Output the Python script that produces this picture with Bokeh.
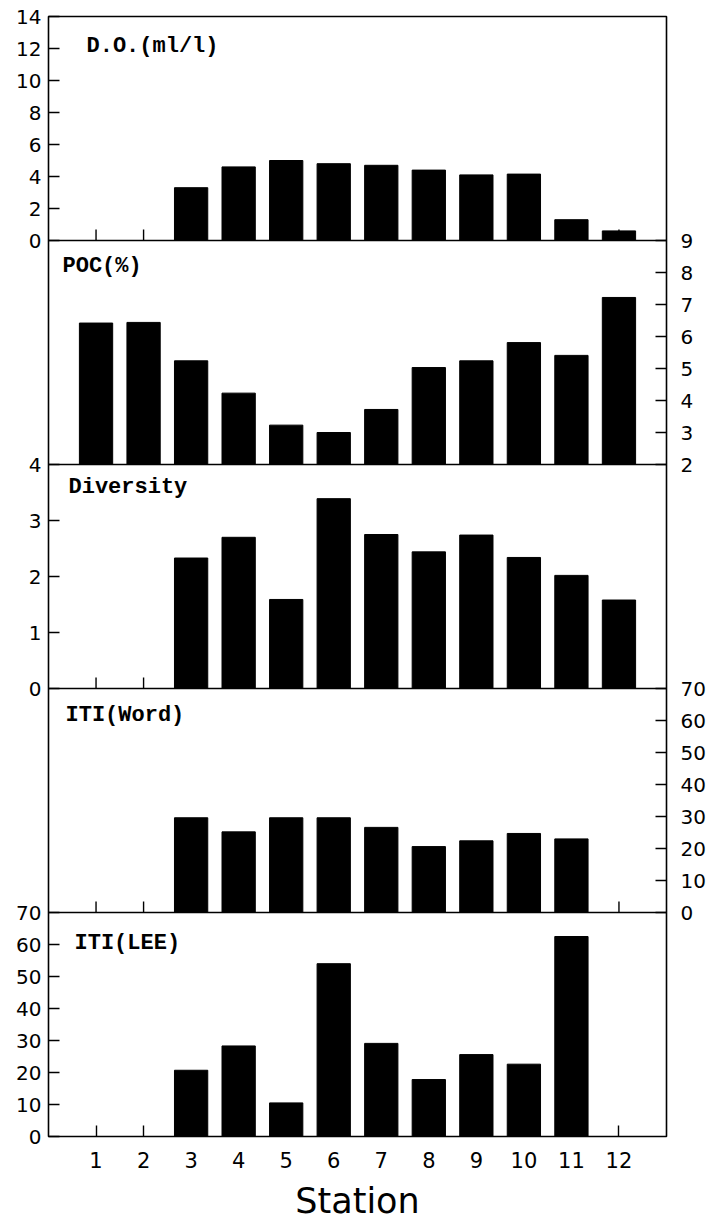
from bokeh.plotting import figure
from bokeh.models import Range1d, LinearAxis, FixedTicker, Span, Label, ColumnDataSource
from bokeh.embed import file_html
from bokeh.resources import INLINE

# ---------------- data ----------------
stations = [1, 2, 3, 4, 5, 6, 7, 8, 9, 10, 11, 12]

do_values = [None, None, 3.3, 4.6, 5.0, 4.8, 4.7, 4.4, 4.1, 4.15, 1.3, 0.6]
poc_values = [6.42, 6.44, 5.24, 4.23, 3.23, 3.0, 3.72, 5.03, 5.24, 5.81, 5.41, 7.22]
diversity_values = [None, None, 2.33, 2.70, 1.59, 3.39, 2.75, 2.44, 2.74, 2.34, 2.02, 1.58]
iti_word_values = [None, None, 29.6, 25.2, 29.6, 29.6, 26.6, 20.6, 22.4, 24.7, 23.0, None]
iti_lee_values = [None, None, 20.7, 28.3, 10.5, 54.0, 29.1, 17.8, 25.6, 22.6, 62.5, None]

do_ticks = [0, 2, 4, 6, 8, 10, 12, 14]
poc_ticks = [2, 3, 4, 5, 6, 7, 8, 9]
diversity_ticks = [0, 1, 2, 3, 4]
iti_ticks = [0, 10, 20, 30, 40, 50, 60, 70]

panel_names = ["D.O.(ml/l)", "POC(%)", "Diversity", "ITI(Word)", "ITI(LEE)"]

# ---------------- layout / style ----------------
BAND = 840           # band height in the shared (layout) y units
N = 5
FRAME_W, FRAME_H = 618, 1120
TICK_PX = 11

panels = [
    dict(name=panel_names[0], values=do_values, lo=0, hi=14, ticks=do_ticks, side="left", lx=38, ly=30),
    dict(name=panel_names[1], values=poc_values, lo=2, hi=9, ticks=poc_ticks, side="right", lx=14, ly=26),
    dict(name=panel_names[2], values=diversity_values, lo=0, hi=4, ticks=diversity_ticks, side="left", lx=20, ly=23),
    dict(name=panel_names[3], values=iti_word_values, lo=0, hi=70, ticks=iti_ticks, side="right", lx=17, ly=27),
    dict(name=panel_names[4], values=iti_lee_values, lo=0, hi=70, ticks=iti_ticks, side="left", lx=26, ly=31),
]

p = figure(
    frame_width=FRAME_W, frame_height=FRAME_H,
    x_range=Range1d(0, 13), y_range=Range1d(0, N * BAND),
    output_backend="svg", toolbar_location=None,
    y_axis_location=None,
    min_border_left=48, min_border_right=42, min_border_top=16, min_border_bottom=0,
    background_fill_color="white", border_fill_color="white",
)
p.grid.visible = False
p.outline_line_color = "black"
p.outline_line_width = 1.6

left_ticks, left_labels = [], {}
right_ticks, right_labels = [], {}

for i, pan in enumerate(panels):
    band = N - 1 - i          # 0 = bottom band
    span = pan["hi"] - pan["lo"]
    rname = "r%d" % i
    p.extra_y_ranges[rname] = Range1d(pan["lo"] - band * span, pan["hi"] + (N - 1 - band) * span)

    xs = [s for s, v in zip(stations, pan["values"]) if v is not None]
    tops = [v for v in pan["values"] if v is not None]
    src = ColumnDataSource(dict(x=xs, top=tops))
    p.vbar(x="x", top="top", bottom=pan["lo"], width=0.7, source=src,
           y_range_name=rname, fill_color="black", line_color="black")

    # station tick marks along the bottom of upper panels
    if band > 0:
        tick_len = TICK_PX / (FRAME_H / N) * span
        p.segment(x0=stations, x1=stations, y0=[pan["lo"]] * len(stations),
                  y1=[pan["lo"] + tick_len] * len(stations),
                  y_range_name=rname, line_color="black", line_width=1.4)
        p.add_layout(Span(location=band * BAND, dimension="width",
                          line_color="black", line_width=1.6))

    for t in pan["ticks"]:
        pos = band * BAND + (t - pan["lo"]) * BAND // span
        if pan["side"] == "left":
            left_ticks.append(pos)
            left_labels[pos] = str(t)
        else:
            right_ticks.append(pos)
            right_labels[pos] = str(t)

    p.add_layout(Label(x=0, y=pan["hi"], y_range_name=rname, x_offset=pan["lx"], y_offset=-pan["ly"],
                       text=pan["name"], text_font="Liberation Mono", text_font_size="22px",
                       text_font_style="bold",
                       text_baseline="middle", text_align="left", text_color="black"))


def style_y(ax, standoff):
    ax.major_tick_in = TICK_PX
    ax.major_tick_out = 0
    ax.minor_tick_line_color = None
    ax.major_tick_line_width = 1.4
    ax.axis_line_color = None
    ax.major_label_standoff = standoff
    ax.major_label_text_font = "DejaVu Sans"
    ax.major_label_text_font_size = "20px"
    ax.major_label_text_color = "black"


left_axis = LinearAxis(ticker=FixedTicker(ticks=sorted(set(left_ticks))))
left_axis.major_label_overrides = left_labels
style_y(left_axis, 7)
p.add_layout(left_axis, "left")

right_axis = LinearAxis(ticker=FixedTicker(ticks=sorted(set(right_ticks))))
right_axis.major_label_overrides = right_labels
style_y(right_axis, 14)
p.add_layout(right_axis, "right")

xa = p.xaxis[0]
xa.ticker = FixedTicker(ticks=stations)
xa.major_tick_in = TICK_PX
xa.major_tick_out = 0
xa.major_tick_line_width = 1.4
xa.minor_tick_line_color = None
xa.axis_line_color = None
xa.major_label_standoff = 15
xa.major_label_text_font = "DejaVu Sans"
xa.major_label_text_font_size = "21px"
xa.major_label_text_color = "black"
xa.axis_label = "Station"
xa.axis_label_text_font = "DejaVu Sans"
xa.axis_label_text_font_size = "35px"
xa.axis_label_text_font_style = "normal"
xa.axis_label_text_color = "black"
xa.axis_label_standoff = 10

open("out.html", "w").write(file_html(p, INLINE))
